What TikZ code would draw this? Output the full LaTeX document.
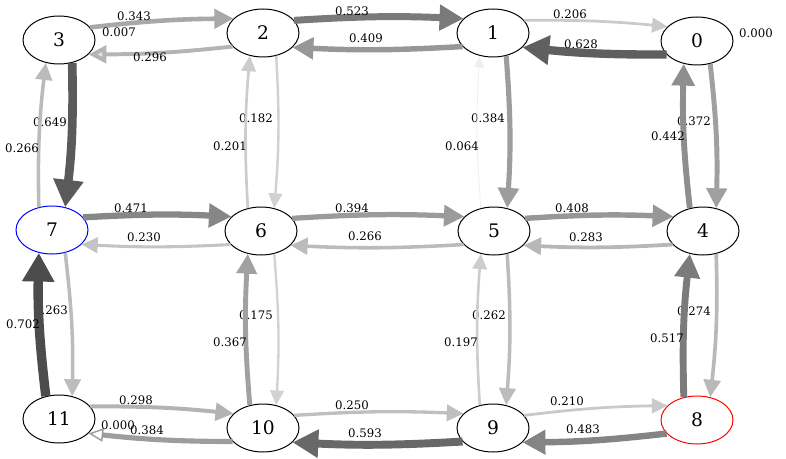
\documentclass[tikz,border=0pt]{standalone}
\usepackage{fontspec}
\setmainfont{DejaVu Serif}
\usetikzlibrary{shapes.geometric,arrows.meta}
\begin{document}
\begin{tikzpicture}[x=0.75pt,y=0.75pt,
  state/.style={ellipse,draw,line width=0.75pt,fill=white,minimum width=54pt,
    minimum height=36pt,inner sep=0pt,font=\fontsize{14}{16}\selectfont},
  wlab/.style={font=\fontsize{8.8}{10}\selectfont,inner sep=0pt},
  % transition edge: #1 = probability in percent (grey level and pen width)
  wt/.style={draw=black!#1,line width={#1*0.1pt},
    -{Triangle[length=7.5pt 2.0,width=6pt 2.4]}},
  hb/.style={bend left=3},
  vb/.style={bend left=4}]
\useasboundingbox (0,0) rectangle (786,458);

% labels of the downward edges sit underneath the upward edges
\node[wlab] (l37)  at (50,336)  {0.649};
\node[wlab] (l26)  at (256,340) {0.182};
\node[wlab] (l15)  at (488,340) {0.384};
\node[wlab] (l04)  at (694,337) {0.372};
\node[wlab] (l711) at (51,148)  {0.263};
\node[wlab] (l610) at (256,143) {0.175};
\node[wlab] (l59)  at (489,143) {0.262};
\node[wlab] (l48)  at (694,147) {0.274};

% states
\node[state] (n3)  at (59,418)  {3};
\node[state] (n2)  at (263,425) {2};
\node[state] (n1)  at (493,425) {1};
\node[state] (n0)  at (697,417) {0};
\node[state,draw=blue] (n7) at (52,228) {7};
\node[state] (n6)  at (261,227) {6};
\node[state] (n5)  at (494,227) {5};
\node[state] (n4)  at (703,227) {4};
\node[state] (n11) at (59,39)   {11};
\node[state] (n10) at (263,30)  {10};
\node[state] (n9)  at (493,30)  {9};
\node[state,draw=red] (n8) at (697,38) {8};

% rightward edges leave at 22 deg and enter at 154 deg,
% leftward edges leave at 204 deg and enter at 334 deg;
% downward edges run 300 -> 60, upward edges 120 -> 240.

% top row
\draw[wt=34.3] (n3.22) to[hb] (n2.154);
\draw[wt=29.6,-{Triangle[length=7.5pt 2.0,width=6pt 2.4,fill=black!12]}] (n2.204) to[hb] (n3.334);
\draw[wt=52.3] (n2.22) to[hb] (n1.154);
\draw[wt=40.9] (n1.204) to[hb] (n2.334);
\draw[wt=20.6] (n1.22) to[hb] (n0.154);
\draw[wt=62.8] (n0.204) to[hb] (n1.334);
% top to middle
\draw[wt=64.9] (n3.300) to[vb] (n7.60);
\draw[wt=26.6] (n7.120) to[vb] (n3.240);
\draw[wt=18.2] (n2.300) to[vb] (n6.60);
\draw[wt=20.1] (n6.120) to[vb] (n2.240);
\draw[wt=38.4] (n1.300) to[vb] (n5.60);
\draw[wt=6.4]  (n5.120) to[vb] (n1.240);
\draw[wt=37.2] (n0.300) to[vb] (n4.60);
\draw[wt=44.2] (n4.120) to[vb] (n0.240);
% middle row
\draw[wt=47.1] (n7.22) to[hb] (n6.154);
\draw[wt=23.0] (n6.204) to[hb] (n7.334);
\draw[wt=39.4] (n6.22) to[hb] (n5.154);
\draw[wt=26.6] (n5.204) to[hb] (n6.334);
\draw[wt=40.8] (n5.22) to[hb] (n4.154);
\draw[wt=28.3] (n4.204) to[hb] (n5.334);
% middle to bottom
\draw[wt=26.3] (n7.300) to[vb] (n11.60);
\draw[wt=70.2] (n11.120) to[vb] (n7.240);
\draw[wt=17.5] (n6.300) to[vb] (n10.60);
\draw[wt=36.7] (n10.120) to[vb] (n6.240);
\draw[wt=26.2] (n5.300) to[vb] (n9.60);
\draw[wt=19.7] (n9.120) to[vb] (n5.240);
\draw[wt=27.4] (n4.300) to[vb] (n8.60);
\draw[wt=51.7] (n8.120) to[vb] (n4.240);
% bottom row
\draw[wt=29.8] (n11.22) to[hb] (n10.154);
\draw[wt=38.4,-{Triangle[open,line width=1.1pt,length=11pt,width=10pt]}] (n10.204) to[hb] (n11.334);
\draw[wt=25.0] (n10.22) to[hb] (n9.154);
\draw[wt=59.3] (n9.204) to[hb] (n10.334);
\draw[wt=21.0] (n9.22) to[hb] (n8.154);
\draw[wt=48.3] (n8.204) to[hb] (n9.334);

% remaining probability labels, on top of the edges
\node[wlab] (l32)  at (134,442) {0.343};
\node[wlab] (l33)  at (119,426) {0.007};
\node[wlab] (l23)  at (150,401) {0.296};
\node[wlab] (l21)  at (352,447) {0.523};
\node[wlab] (l12)  at (366,420) {0.409};
\node[wlab] (l10)  at (570,444) {0.206};
\node[wlab] (l01)  at (581,414) {0.628};
\node[wlab] (l00)  at (756,425) {0.000};
\node[wlab] (l73)  at (22,310)  {0.266};
\node[wlab] (l62)  at (230,312) {0.201};
\node[wlab] (l51)  at (462,312) {0.064};
\node[wlab] (l40)  at (668,322) {0.442};
\node[wlab] (l76)  at (131,250) {0.471};
\node[wlab] (l67)  at (144,221) {0.230};
\node[wlab] (l65)  at (352,250) {0.394};
\node[wlab] (l56)  at (365,222) {0.266};
\node[wlab] (l54)  at (572,250) {0.408};
\node[wlab] (l45)  at (586,221) {0.283};
\node[wlab] (l117) at (23,134)  {0.702};
\node[wlab] (l106) at (230,116) {0.367};
\node[wlab] (l95)  at (461,116) {0.197};
\node[wlab] (l84)  at (667,120) {0.517};
\node[wlab] (l1110) at (136,58) {0.298};
\node[wlab] (l1111) at (118,33) {0.000};
\node[wlab] (l1011) at (147,28) {0.384};
\node[wlab] (l109) at (352,53)  {0.250};
\node[wlab] (l910) at (365,25)  {0.593};
\node[wlab] (l98)  at (567,57)  {0.210};
\node[wlab] (l89)  at (583,29)  {0.483};
\end{tikzpicture}
\end{document}
